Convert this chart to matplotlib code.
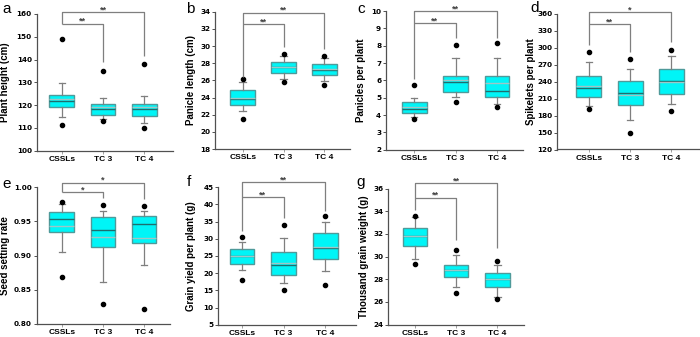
import matplotlib
matplotlib.use("Agg")
import matplotlib.pyplot as plt
import numpy as np

plt.rcParams['font.family'] = ['Liberation Sans', 'DejaVu Sans']

groups = ["CSSLs", "TC 3", "TC 4"]

# each row: low dot, whisker low, q1, median, mean, q3, whisker high, high dot
plant_height = [
    [111.1, 114.6, 119.0, 121.8, 122.8, 124.4, 129.6, 148.9],
    [112.9, 113.8, 115.5, 118.1, 119.0, 120.6, 123.0, 135.1],
    [110.1, 112.3, 115.1, 118.1, 119.3, 120.6, 124.1, 137.9],
]
panicle_length = [
    [21.5, 22.4, 23.1, 23.85, 24.0, 24.85, 25.8, 26.1],
    [25.8, 26.2, 26.8, 27.55, 27.5, 28.15, 28.8, 29.1],
    [25.4, 25.9, 26.6, 27.25, 27.3, 27.95, 28.55, 28.8],
]
panicles = [
    [3.75, 3.87, 4.10, 4.35, 4.46, 4.73, 5.0, 5.73],
    [4.73, 5.02, 5.31, 5.9, 6.0, 6.27, 7.27, 8.02],
    [4.44, 4.62, 5.02, 5.4, 5.83, 6.27, 7.31, 8.13],
]
spikelets = [
    [191.4, 197.3, 213.8, 228.5, 232.6, 249.7, 274.5, 292.2],
    [150.1, 171.9, 198.5, 220.3, 217.3, 242.1, 263.3, 279.8],
    [189.0, 200.2, 218.5, 240.9, 240.0, 262.7, 286.3, 295.7],
]
seed_setting = [
    [0.869, 0.906, 0.934, 0.953, 0.943, 0.964, 0.975, 0.979],
    [0.829, 0.861, 0.913, 0.938, 0.927, 0.957, 0.966, 0.974],
    [0.8225, 0.886, 0.918, 0.947, 0.926, 0.958, 0.966, 0.972],
]
grain_yield = [
    [18.1, 20.8, 22.8, 24.9, 25.0, 27.1, 29.1, 30.5],
    [15.1, 17.1, 19.6, 22.5, 23.0, 26.2, 30.1, 33.9],
    [16.5, 20.5, 24.0, 27.4, 27.6, 31.7, 35.0, 36.7],
]
grain_weight = [
    [29.33, 29.78, 30.96, 31.79, 31.85, 32.5, 33.54, 33.63],
    [26.79, 27.32, 28.24, 28.83, 28.85, 29.3, 30.13, 30.6],
    [26.28, 26.43, 27.35, 28.03, 28.05, 28.59, 29.24, 29.63],
]

# significance: outer level, inner level, foot of CSSLs / TC 3 / TC 4 lines, inner mark, outer mark
sig_a = [160.7, 155.8, 155.8, 139.1, 141.6, "**", "**"]
sig_b = [33.9, 32.56, 26.35, 29.9, 29.65, "**", "**"]
sig_c = [10.0, 9.29, 6.06, 8.42, 8.42, "**", "**"]
sig_d = [363, 341.7, 305, 292.2, 309.9, "**", "*"]
sig_e = [1.0064, 0.9927, 0.9927, 0.9844, 0.9834, "*", "*"]
sig_f = [46.4, 42.1, 32.2, 36.1, 38.0, "**", "**"]
sig_g = [36.5, 35.2, 34.13, 31.47, 30.73, "**", "**"]

W, H = 700, 337
fig = plt.figure(figsize=(7, 3.37), dpi=100)

# letter, data, sig, ylabel, yticks, tick fmt, pixel box (left, right, top, bottom), xlim, letter pos, ylabel x
panels = [
    ("a", plant_height, sig_a, "Plant height (cm)", np.arange(100, 161, 10), "{:.0f}",
     (36.7, 173, 14, 150.7), (0.39, 3.70), (2, 9), 10),
    ("b", panicle_length, sig_b, "Panicle length (cm)", np.arange(18, 35, 2), "{:.0f}",
     (215, 350, 11.7, 149), (0.32, 3.63), (186, 9), 196),
    ("c", panicles, sig_c, "Panicles per plant", np.arange(2, 11, 1), "{:.0f}",
     (386, 523, 11, 149.7), (0.32, 3.63), (357, 9), 366),
    ("d", spikelets, sig_d, "Spikelets per plant", np.arange(120, 361, 30), "{:.0f}",
     (557, 699.5, 14, 149.5), (0.23, 3.68), (530, 8), 536),
    ("e", seed_setting, sig_e, "Seed setting rate", np.arange(0.80, 1.001, 0.05), "{:.2f}",
     (36.7, 170, 187.3, 324), (0.39, 3.63), (2, 184), 10),
    ("f", grain_yield, sig_f, "Grain yield per plant (g)", np.arange(5, 46, 5), "{:.0f}",
     (218.3, 356, 187.3, 324.7), (0.43, 3.74), (187, 182), 196),
    ("g", grain_weight, sig_g, "Thousand grain weight (g)", np.arange(24, 37, 2), "{:.0f}",
     (388.3, 524, 188.7, 324.5), (0.35, 3.65), (356, 182), 369),
]

line_grey = '#7f7f7f'
for letter, rows, sig, ylabel, yticks, fmt, box, xlim, lpos, ylx in panels:
    left, right, top, bottom = box
    ax = fig.add_axes([left / W, 1 - bottom / H, (right - left) / W, (bottom - top) / H])

    stats = []
    for name, r in zip(groups, rows):
        stats.append(dict(label=name, whislo=r[1], q1=r[2], med=r[3], mean=r[4],
                          q3=r[5], whishi=r[6], fliers=[r[0], r[7]]))
    ax.bxp(stats, positions=[1, 2, 3], widths=0.6, capwidths=0.16,
           patch_artist=True, showmeans=True, meanline=True,
           boxprops=dict(facecolor='#00f5f7', edgecolor='#4f9a9a', linewidth=1.0),
           medianprops=dict(color='#1e6e6e', linewidth=1.0),
           meanprops=dict(color='#9fc6c6', linestyle='-', linewidth=1.0),
           whiskerprops=dict(color=line_grey, linewidth=0.9),
           capprops=dict(color=line_grey, linewidth=0.9),
           flierprops=dict(marker='o', markerfacecolor='black', markeredgecolor='black',
                           markersize=3.0, linestyle='none'))

    ax.set_xlim(*xlim)
    ax.set_ylim(yticks[0], yticks[-1])
    ax.set_yticks(yticks)
    ax.set_yticklabels([fmt.format(v) for v in yticks],
                       fontdict=dict(family='DejaVu Sans', weight='bold', size=5.2))
    ax.set_xticks([1, 2, 3])
    ax.set_xticklabels(groups, fontdict=dict(weight='bold', size=6))
    for s in ['top', 'right']:
        ax.spines[s].set_visible(False)
    for s in ['left', 'bottom']:
        ax.spines[s].set_color('#505050')
        ax.spines[s].set_linewidth(0.9)
    ax.tick_params(axis='y', length=2.5, width=0.7, color='#505050', pad=1)
    ax.tick_params(axis='x', length=1.8, width=0.6, color='#909090', pad=2)

    ax.set_ylabel(ylabel, fontsize=7, fontweight='bold')
    ax.yaxis.set_label_coords(ylx / W, 1 - (top + bottom) / 2 / H, transform=fig.transFigure)
    fig.text(lpos[0] / W, 1 - lpos[1] / H, letter, fontsize=11, va='center', ha='left')

    # significance brackets
    y_out, y_in, foot1, foot3, foot4, mark_in, mark_out = sig
    kw = dict(color=line_grey, linewidth=0.9, clip_on=False, solid_capstyle='butt')
    ax.plot([1, 1, 3, 3], [foot1, y_out, y_out, foot4], **kw)
    ax.plot([1, 2, 2], [y_in, y_in, foot3], **kw)
    ax.annotate(mark_out, xy=(2, y_out), xytext=(0, -1.5), textcoords='offset points',
                ha='center', va='bottom', fontsize=6.5, fontweight='bold', color='#404040',
                annotation_clip=False)
    ax.annotate(mark_in, xy=(1.5, y_in), xytext=(0, -1.5), textcoords='offset points',
                ha='center', va='bottom', fontsize=6.5, fontweight='bold', color='#404040',
                annotation_clip=False)

fig.savefig("out.png", dpi=100)
